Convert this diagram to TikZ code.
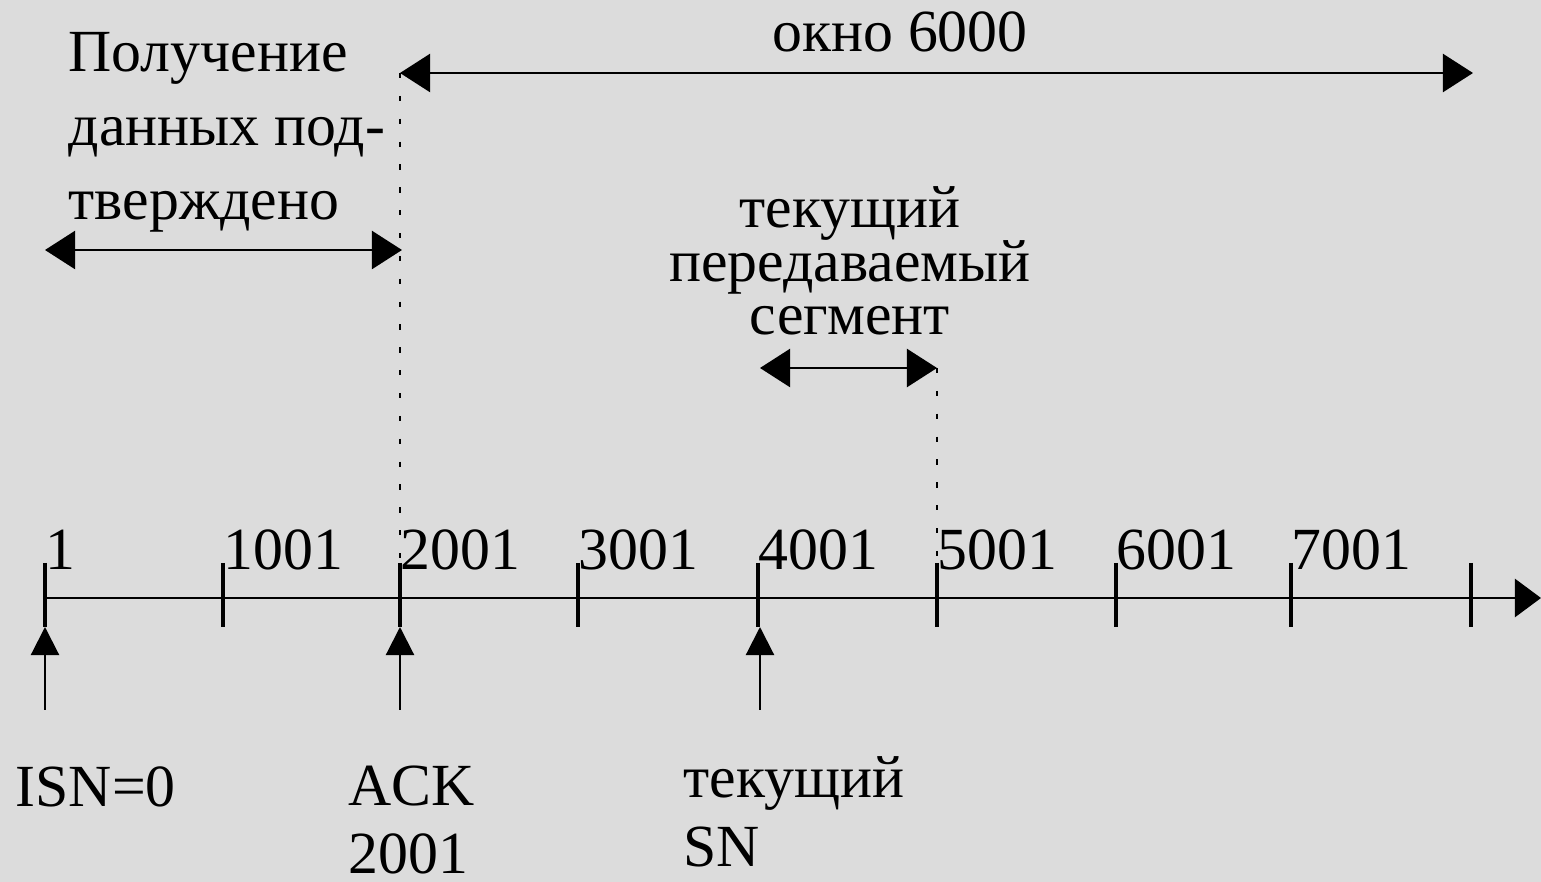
\documentclass[tikz,border=0pt]{standalone}
\usepackage{fontspec}
\setmainfont{Liberation Serif}
\usetikzlibrary{arrows.meta,positioning}
\definecolor{bgGray}{HTML}{DCDCDC}

\begin{document}
\begin{tikzpicture}[x=0.01cm, y=-0.01cm, font=\fontsize{17}{21}\selectfont,
    span/.style={{Triangle[length=3mm,width=3.8mm]}-{Triangle[length=3mm,width=3.8mm]}, line width=0.6pt},
    pointer/.style={-{Triangle[length=2.8mm,width=2.8mm]}, line width=0.6pt},
    guide/.style={line width=0.6pt, dash pattern=on 1.5pt off 5pt},
    tickmark/.style={line width=1.4pt}]
    % Background
    \useasboundingbox[fill=bgGray] (0,0) rectangle (1541,882);
    % Axis
    \coordinate (origin) at (45,598);
    \coordinate (axisEnd) at (1541,598);
    \draw[-{Triangle[length=2.6mm,width=3.8mm]}, line width=0.7pt] (origin) -- (axisEnd);
    \foreach \x/\n in {45/1, 223/1001, 400/2001, 578/3001, 758/4001, 937/5001, 1116/6001, 1291/7001} {
        \coordinate (top\n) at (\x,563);
        \coordinate (bot\n) at (\x,627);
        \draw[tickmark] (top\n) -- (bot\n);
        \node[inner sep=0pt, anchor=base west] (num\n) at (\x,570) {\n};
}
    \coordinate (topEnd) at (1471,563);
    \coordinate (botEnd) at (1471,627);
    \draw[tickmark] (topEnd) -- (botEnd);
    % Window
    \coordinate (winL) at (400,73);
    \coordinate (winR) at (1473,73);
    \draw[span] (winL) -- (winR);
    \node[inner sep=0pt, anchor=base] (winText) at (900,52) {окно 6000};
    \draw[guide] (winL) -- (top2001);
    % Acknowledged
    \coordinate (ackL) at (45,250);
    \coordinate (ackR) at (402,250);
    \draw[span] (ackL) -- (ackR);
    \node[inner sep=0pt, anchor=north west, align=left,
          font=\fontsize{17}{21}\selectfont] (ackText) at (68,32)
        {Получение\\данных под-\\тверждено};
    % Current segment
    \coordinate (segL) at (760,368);
    \coordinate (segR) at (937,368);
    \draw[span] (segL) -- (segR);
    \node[inner sep=0pt, anchor=north, align=center,
          font={\fontsize{17}{15.2}\selectfont\lineskiplimit=-1cm}] (segText) at (850,186)
        {текущий\\передаваемый\\сегмент};
    \draw[guide] (segR) -- (top5001);
    % Pointers
    \coordinate (isnBase) at (45,710);
    \coordinate (ackBase) at (400,710);
    \coordinate (snBase) at (760,710);
    \draw[pointer] (isnBase) -- (bot1);
    \draw[pointer] (ackBase) -- (bot2001);
    \draw[pointer] (snBase) -- (760,627);
    \node[inner sep=0pt, anchor=base west] (isnLabel) at (15,807) {ISN=0};
    \node[inner sep=0pt, anchor=north west, align=left,
          font=\fontsize{17}{19.5}\selectfont] (ackLabel) at (348,765) {ACK\\2001};
    \node[inner sep=0pt, anchor=north west, align=left,
          font=\fontsize{17}{19.5}\selectfont] (snLabel) at (683,756) {текущий\\SN};
\end{tikzpicture}
\end{document}
